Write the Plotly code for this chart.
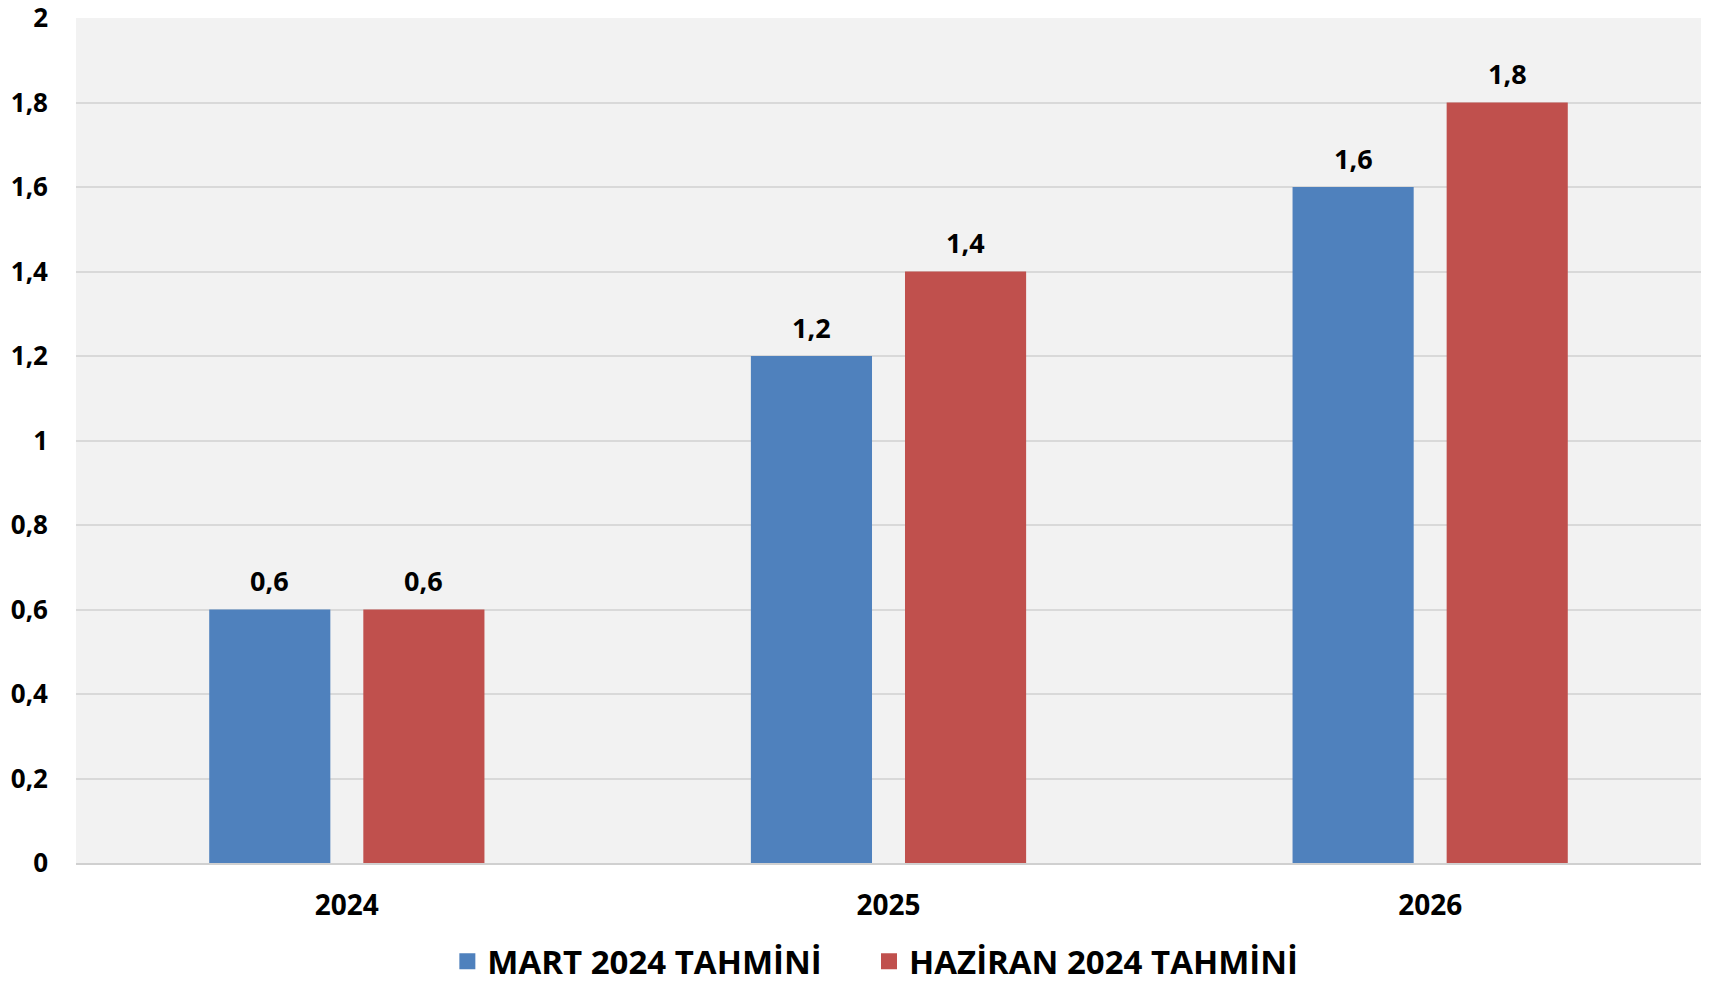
import plotly.graph_objects as go

years = ["2024", "2025", "2026"]
mart = [0.6, 1.2, 1.6]
haziran = [0.6, 1.4, 1.8]
series_names = ["MART 2024 TAHMİNİ", "HAZİRAN 2024 TAHMİNİ"]
colors = ["#4F81BD", "#C0504D"]
y_ticks = [0, 0.2, 0.4, 0.6, 0.8, 1, 1.2, 1.4, 1.6, 1.8, 2]

FONT = "Open Sans"
fig = go.Figure()
for name, vals, col, lg in zip(series_names, [mart, haziran], colors, ["legend", "legend2"]):
    fig.add_trace(go.Bar(
        x=years, y=vals, name=name, marker=dict(color=col, line=dict(width=0)),
        showlegend=False,
    ))
    fig.add_trace(go.Scatter(
        x=[None], y=[None], mode="markers", name=name, legend=lg,
        marker=dict(symbol="square", size=20, color=col), showlegend=True,
    ))

# value labels above bars (category index positions on the category axis)
for shift, vals in zip([-77, 77], [mart, haziran]):
    for i, v in enumerate(vals):
        fig.add_annotation(x=i, y=v, xref="x", yref="y", text=f"{v}".replace(".", ","),
                           showarrow=False, xshift=shift, yshift=29, yanchor="middle",
                           font=dict(family=FONT, size=27, color="black", weight="bold"))

legend_common = dict(orientation="h", xref="container", yref="container",
                     xanchor="left", y=0.024, yanchor="middle",
                     font=dict(family=FONT, size=33, color="black", weight="bold"),
                     itemsizing="trace", bgcolor="rgba(0,0,0,0)")

fig.update_layout(
    width=1714, height=985,
    separators=", ",
    paper_bgcolor="white", plot_bgcolor="#F2F2F2",
    margin=dict(l=76, r=13, t=18, b=122, autoexpand=False),
    bargap=0.431, bargroupgap=0.214, barmode="group",
    font=dict(family=FONT, size=27, color="black", weight="bold"),
    legend=dict(x=0.261, **legend_common),
    legend2=dict(x=0.507, **legend_common),
)
fig.update_yaxes(range=[0, 2], tickvals=y_ticks, showgrid=True, gridcolor="#D9D9D9", gridwidth=2,
                 zeroline=False, showline=False, ticks="", ticklabelstandoff=27,
                 ticklabeloverflow="allow", automargin=False,
                 tickfont=dict(family=FONT, size=26, color="black", weight="bold"))
fig.update_xaxes(type="category", categoryorder="array", categoryarray=years, range=[-0.5, 2.5],
                 showline=True, linecolor="#D0D0D0", linewidth=2, ticks="",
                 ticklabelstandoff=16, automargin=False,
                 tickfont=dict(family=FONT, size=28, color="black", weight="bold"))

fig.write_html("out.html", config={"displayModeBar": False},
               post_script="document.body.style.margin='0px';document.body.style.overflow='hidden';")
